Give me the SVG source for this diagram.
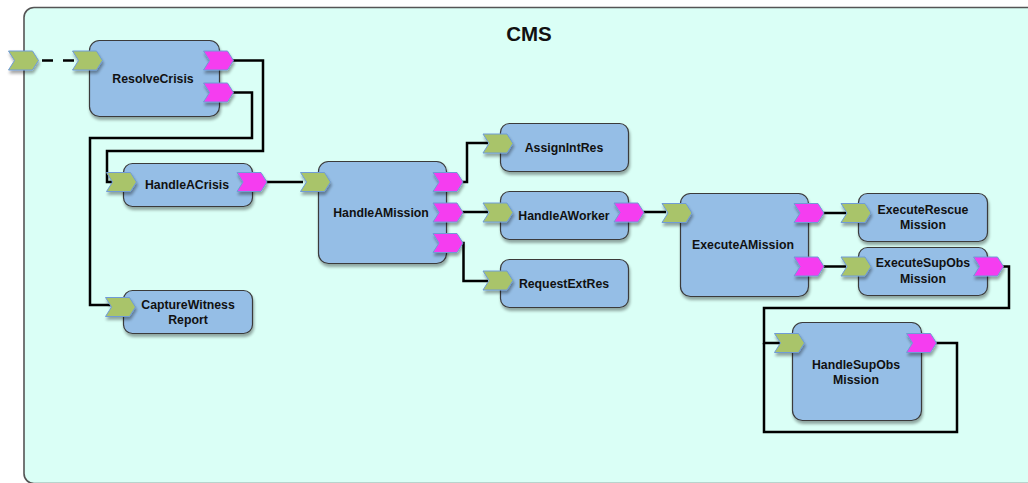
<svg xmlns="http://www.w3.org/2000/svg" width="1028" height="483" viewBox="0 0 1028 483">
<style>
.box{fill:#95bee6;stroke:#3a3a3a;stroke-width:1.2;filter:url(#sh)}
.in{fill:#a9c46a;stroke:#6f9bd6;stroke-width:1;filter:url(#sh)}
.out{fill:#f53cf0;stroke:#6f9bd6;stroke-width:1;filter:url(#sh)}
.lbl{font-family:"Liberation Sans",Arial,sans-serif;font-weight:bold;font-size:12.3px;fill:#111;text-anchor:middle}
.wire{fill:none;stroke:#000;stroke-width:2.5}
</style>
<defs>
<filter id="sh" x="-20%" y="-20%" width="150%" height="160%">
<feGaussianBlur in="SourceAlpha" stdDeviation="1.5"/>
<feOffset dx="1" dy="2.5" result="b"/>
<feComponentTransfer><feFuncA type="linear" slope="0.35"/></feComponentTransfer>
<feMerge><feMergeNode/><feMergeNode in="SourceGraphic"/></feMerge>
</filter>
<path id="chev" d="M0,0 L24,0 L30,9.5 L24,19 L0,19 L6,9.5 Z"/>
</defs>
<rect x="0" y="0" width="1028" height="483" fill="#fff"/>
<g id="CMS">
<rect x="24" y="7.5" width="1030" height="476" rx="10" fill="#dafff6" stroke="#555" stroke-width="1.6"/>
<text x="529" y="41" style="font-family:'Liberation Sans',Arial,sans-serif;font-weight:bold;font-size:20.5px;fill:#111;text-anchor:middle">CMS</text>
</g>
<g id="connectors">
<line class="wire" x1="42" y1="60.5" x2="74" y2="60.5" stroke-dasharray="11 10"/>
<polyline class="wire" points="232,60.5 263,60.5 263,151 107,151 107,182 112,182"/>
<polyline class="wire" points="232,92.5 252,92.5 252,138 90,138 90,305 112,305"/>
<line class="wire" x1="266" y1="182" x2="303" y2="182"/>
<polyline class="wire" points="462,182 467,182 467,143 488,143"/>
<line class="wire" x1="462" y1="212" x2="488" y2="212"/>
<polyline class="wire" points="462,243 463.5,243 463.5,281 488,281"/>
<line class="wire" x1="643" y1="212" x2="666" y2="212"/>
<line class="wire" x1="823" y1="213" x2="846" y2="213"/>
<line class="wire" x1="823" y1="266.5" x2="846" y2="266.5"/>
<polyline class="wire" points="1003,266.5 1009,266.5 1009,308 764,308 764,343 780,343"/>
<polyline class="wire" points="935,343 957,343 957,432 764,432 764,343"/>
</g>
<g id="ext_in"><use href="#chev" class="in" x="8.5" y="51"/></g>
<g id="ResolveCrisis">
<rect class="box" x="89.5" y="40.5" width="130" height="76" rx="10"/>
<use href="#chev" class="in" x="72.5" y="51"/>
<use href="#chev" class="out" x="203.5" y="51"/>
<use href="#chev" class="out" x="203.5" y="83"/>
<text class="lbl" x="153" y="83">ResolveCrisis</text>
</g>
<g id="HandleACrisis">
<rect class="box" x="123.5" y="163.5" width="129" height="43" rx="9"/>
<use href="#chev" class="in" x="106.5" y="172.5"/>
<use href="#chev" class="out" x="237" y="172.5"/>
<text class="lbl" x="187" y="189">HandleACrisis</text>
</g>
<g id="CaptureWitnessReport">
<rect class="box" x="123.5" y="290.5" width="129" height="43" rx="9"/>
<use href="#chev" class="in" x="105.5" y="297.5"/>
<text class="lbl" x="188" y="309">CaptureWitness</text>
<text class="lbl" x="188" y="324">Report</text>
</g>
<g id="HandleAMission">
<rect class="box" x="318.5" y="161.5" width="128" height="102" rx="10"/>
<use href="#chev" class="in" x="300.5" y="172.5"/>
<use href="#chev" class="out" x="433" y="172.5"/>
<use href="#chev" class="out" x="433" y="203"/>
<use href="#chev" class="out" x="433" y="233.5"/>
<text class="lbl" x="381" y="217">HandleAMission</text>
</g>
<g id="AssignIntRes">
<rect class="box" x="500.5" y="123.5" width="128" height="48" rx="9"/>
<use href="#chev" class="in" x="483" y="134"/>
<text class="lbl" x="564" y="152">AssignIntRes</text>
</g>
<g id="HandleAWorker">
<rect class="box" x="500.5" y="191.5" width="128" height="48" rx="9"/>
<use href="#chev" class="in" x="483" y="203"/>
<use href="#chev" class="out" x="614" y="203"/>
<text class="lbl" x="564" y="220">HandleAWorker</text>
</g>
<g id="RequestExtRes">
<rect class="box" x="500.5" y="259.5" width="128" height="48" rx="9"/>
<use href="#chev" class="in" x="483" y="271"/>
<text class="lbl" x="564" y="288">RequestExtRes</text>
</g>
<g id="ExecuteAMission">
<rect class="box" x="680.5" y="193.5" width="128" height="103" rx="10"/>
<use href="#chev" class="in" x="662" y="203.5"/>
<use href="#chev" class="out" x="794" y="203.5"/>
<use href="#chev" class="out" x="794" y="257"/>
<text class="lbl" x="743" y="249">ExecuteAMission</text>
</g>
<g id="ExecuteRescueMission">
<rect class="box" x="858.5" y="193.5" width="129" height="48" rx="9"/>
<use href="#chev" class="in" x="841" y="203.5"/>
<text class="lbl" x="923" y="214">ExecuteRescue</text>
<text class="lbl" x="923" y="229">Mission</text>
</g>
<g id="ExecuteSupObsMission">
<rect class="box" x="858.5" y="247.5" width="129" height="48" rx="9"/>
<use href="#chev" class="in" x="841" y="257"/>
<use href="#chev" class="out" x="973.5" y="257"/>
<text class="lbl" x="923" y="267">ExecuteSupObs</text>
<text class="lbl" x="923" y="283">Mission</text>
</g>
<g id="HandleSupObsMission">
<rect class="box" x="792.5" y="322.5" width="129" height="98" rx="10"/>
<use href="#chev" class="in" x="774.5" y="333.5"/>
<use href="#chev" class="out" x="906.5" y="333.5"/>
<text class="lbl" x="856" y="369">HandleSupObs</text>
<text class="lbl" x="856" y="384">Mission</text>
</g>
</svg>
